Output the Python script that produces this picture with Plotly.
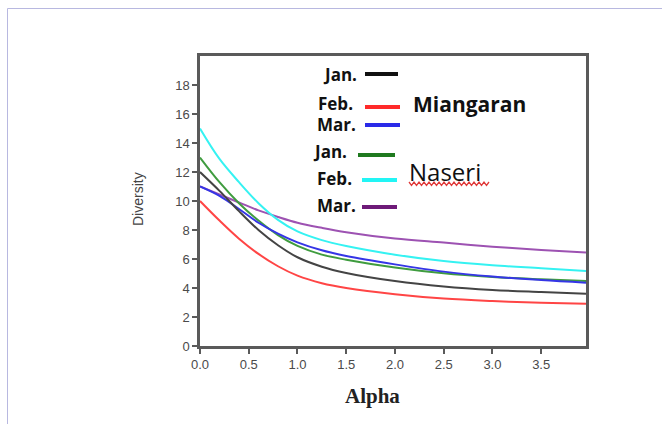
import plotly.graph_objects as go

alpha = [0.0, 0.2, 0.4, 0.6, 0.8, 1.0, 1.25, 1.5, 2.0, 2.5, 3.0, 3.5, 3.96]

miangaran_jan = [12.0, 10.7, 9.3, 8.0, 6.95, 6.12, 5.47, 5.04, 4.48, 4.1, 3.86, 3.72, 3.61]
miangaran_feb = [10.0, 8.65, 7.4, 6.35, 5.5, 4.85, 4.33, 4.0, 3.57, 3.27, 3.1, 2.99, 2.92]
miangaran_mar = [11.0, 10.35, 9.45, 8.5, 7.75, 7.15, 6.6, 6.21, 5.63, 5.13, 4.79, 4.55, 4.37]
naseri_jan = [13.0, 11.3, 9.85, 8.65, 7.65, 6.9, 6.3, 5.95, 5.41, 5.01, 4.76, 4.6, 4.48]
naseri_feb = [15.0, 12.9, 11.3, 9.85, 8.7, 7.9, 7.3, 6.9, 6.3, 5.86, 5.57, 5.36, 5.17]
naseri_mar = [11.0, 10.45, 9.9, 9.35, 8.9, 8.5, 8.15, 7.85, 7.41, 7.13, 6.85, 6.62, 6.44]

series_names = ["Jan.", "Feb.", "Mar.", "Jan.", "Feb.", "Mar."]
groups = ["Miangaran", "Naseri"]
y_ticks = [0, 2, 4, 6, 8, 10, 12, 14, 16, 18]
x_ticks = [0.0, 0.5, 1.0, 1.5, 2.0, 2.5, 3.0, 3.5]

series = [miangaran_jan, miangaran_feb, miangaran_mar, naseri_jan, naseri_feb, naseri_mar]
curve_colors = ["#444444", "#ff4545", "#3535e6", "#3f9c3f", "#35f2f2", "#9d52b2"]
legend_colors = ["#111111", "#ff2a2a", "#2a2ae8", "#1f7a1f", "#22f5f5", "#6e1a78"]

W, H = 662, 424
L, R, T, B = 200, 76, 56, 78
pw, ph = W - L - R, H - T - B

def px(X):
    return (X - L) / pw

def py(Y):
    return (H - B - Y) / ph

fig = go.Figure()
order = [5, 4, 3, 2, 0, 1]
for i in order:
    fig.add_trace(go.Scatter(x=alpha, y=series[i], mode="lines",
                             line=dict(color=curve_colors[i], width=2, shape="spline", smoothing=1.0),
                             showlegend=False, hoverinfo="skip"))

shapes = []
annotations = []

# outer thin lavender frame (top and left)
frame = "#b8b8e0"
shapes.append(dict(type="line", xref="paper", yref="paper", x0=px(7.5), x1=px(W + 5), y0=py(8.5), y1=py(8.5),
                   line=dict(color=frame, width=1)))
shapes.append(dict(type="line", xref="paper", yref="paper", x0=px(7.5), x1=px(7.5), y0=py(8.5), y1=py(H + 5),
                   line=dict(color=frame, width=1)))

# manual legend
label_font = dict(family="'Open Sans', Lato, sans-serif", size=17, color="#111111")
label_pos = [(359, 74), (355, 103), (358, 124), (349, 151), (354, 178), (358, 205)]
line_pos = [(365, 398, 74), (365, 400, 107), (365, 400, 125), (358, 395, 155), (362, 397, 180), (362, 397, 207)]
for k in range(6):
    xr, yy = label_pos[k]
    annotations.append(dict(xref="paper", yref="paper", x=px(xr), y=py(yy), xanchor="right", yanchor="middle",
                            text="<b>" + series_names[k] + "</b>", showarrow=False, font=label_font))
    x0, x1, yl = line_pos[k]
    shapes.append(dict(type="line", xref="paper", yref="paper", x0=px(x0), x1=px(x1), y0=py(yl), y1=py(yl),
                       line=dict(color=legend_colors[k], width=4)))

annotations.append(dict(xref="paper", yref="paper", x=px(411), y=py(104), xanchor="left", yanchor="middle",
                        text="<b>" + groups[0] + "</b>", showarrow=False,
                        font=dict(family="'Open Sans', Lato, sans-serif", size=21, color="#111111")))
annotations.append(dict(xref="paper", yref="paper", x=px(407), y=py(171), xanchor="left", yanchor="middle",
                        text=groups[1], showarrow=False,
                        font=dict(family="'Open Sans', Lato, sans-serif", size=24, color="#111111")))

# wavy spell-check underline under "Naseri"
pts = []
xw = 409
up = True
while xw <= 489:
    pts.append((px(xw), py(182 if up else 185.5)))
    xw += 2.5
    up = not up
path = "M " + " L ".join(f"{a:.5f},{b:.5f}" for a, b in pts)
shapes.append(dict(type="path", xref="paper", yref="paper", path=path, line=dict(color="#e03a3a", width=1.3)))

# axis titles
annotations.append(dict(xref="paper", yref="paper", x=px(372), y=py(396), xanchor="center", yanchor="middle",
                        text="<b>Alpha</b>", showarrow=False,
                        font=dict(family="Liberation Serif, serif", size=21, color="#222222")))
annotations.append(dict(xref="paper", yref="paper", x=px(138), y=py(199), xanchor="center", yanchor="middle",
                        text="Diversity", textangle=-90, showarrow=False,
                        font=dict(family="Liberation Sans, sans-serif", size=14, color="#444444")))

axis_color = "#5a5a5a"
tick_font = dict(family="Liberation Sans, sans-serif", size=13, color="#4a4a4a")
fig.update_layout(
    width=W, height=H,
    margin=dict(l=L, r=R, t=T, b=B, pad=0),
    paper_bgcolor="white", plot_bgcolor="white",
    shapes=shapes, annotations=annotations,
    xaxis=dict(range=[0, 3.96], tickvals=x_ticks, ticktext=[f"{v:.1f}" for v in x_ticks],
               showgrid=False, zeroline=False, showline=True, linecolor=axis_color, linewidth=2.5,
               mirror=True, ticks="outside", ticklen=5, tickwidth=2, tickcolor=axis_color,
               tickfont=tick_font),
    yaxis=dict(range=[0, 20], tickvals=y_ticks, ticktext=[str(v) for v in y_ticks],
               showgrid=False, zeroline=False, showline=True, linecolor=axis_color, linewidth=2.5,
               mirror=True, ticks="outside", ticklen=5, tickwidth=2, tickcolor=axis_color,
               tickfont=tick_font),
)

fig.write_html("out.html", config={"displayModeBar": False},
               post_script="document.body.style.margin='0px';document.body.style.overflow='hidden';")
